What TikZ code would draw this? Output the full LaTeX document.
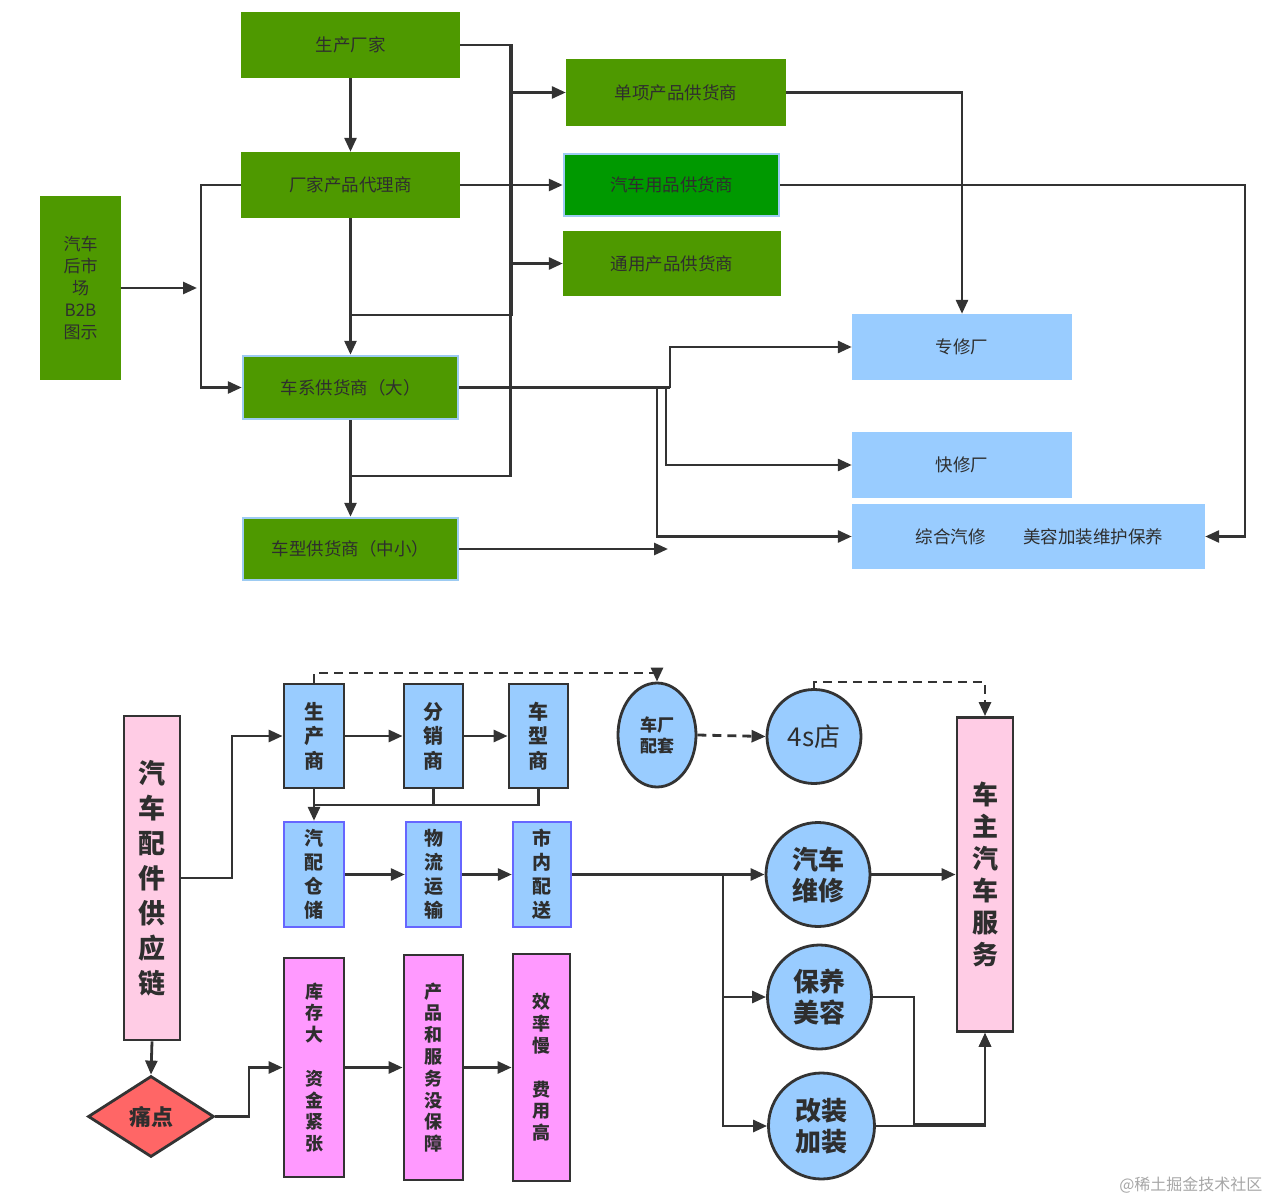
\documentclass[tikz,border=0pt]{standalone}
\usepackage{fontspec}
\setmainfont{Noto Sans CJK SC}
\usetikzlibrary{arrows.meta,shapes.geometric}
\definecolor{gr}{HTML}{4E9900}
\definecolor{grb}{HTML}{009900}
\definecolor{lb}{HTML}{99CCFF}
\definecolor{lbb}{HTML}{9DCBF2}
\definecolor{pk}{HTML}{FFCCE5}
\definecolor{mg}{HTML}{FF99FF}
\definecolor{rd}{HTML}{FF6666}
\definecolor{vi}{HTML}{6666FF}
\definecolor{ln}{HTML}{333333}
\definecolor{tx}{HTML}{2E2E2E}
\tikzset{
  gbox/.style={rectangle,fill=gr,inner sep=0pt,text=tx,font=\fontsize{17.5}{20}\selectfont},
  gboxb/.style={gbox,draw=lbb,line width=2.5pt},
  bbox/.style={rectangle,fill=lb,inner sep=0pt,text=tx,font=\fontsize{17.5}{20}\selectfont},
  dk/.style={draw=ln,line width=2.8pt,inner sep=0pt,text=tx,align=center},
  vbox/.style={dk,rectangle,fill=lb,font=\fontsize{20}{24.5}\selectfont\bfseries},
  wbox/.style={rectangle,fill=lb,draw=vi,line width=2.4pt,inner sep=0pt,text=tx,align=center,font=\fontsize{19}{24}\selectfont\bfseries},
  mbox/.style={dk,rectangle,fill=mg,font=\fontsize{18}{21.8}\selectfont\bfseries},
  circ/.style={dk,circle,fill=lb,font=\fontsize{26}{31}\selectfont\bfseries},
  arr/.style={draw=ln,line width=2.8pt,-{Triangle[length=14pt,width=12pt]}},
  lnk/.style={draw=ln,line width=2.8pt},
  darr/.style={arr,dash pattern=on 9pt off 6pt}
}
\begin{document}
\begin{tikzpicture}[x=1pt,y=-1pt]
\useasboundingbox (0,0) rectangle (1270,1201);
% ---------------- top part ----------------
\node[gbox,minimum width=219pt,minimum height=66pt] (pf) at (350.5,45) {生产厂家};
\node[gbox,minimum width=219pt,minimum height=66pt] (dl) at (350.5,185) {厂家产品代理商};
\node[gbox,minimum width=81pt,minimum height=184pt,align=center,font=\fontsize{17}{22}\selectfont] (hs) at (80.5,288) {汽车\\后市\\场\\B2B\\图示};
\node[gbox,minimum width=220pt,minimum height=67pt] (dx) at (676,92.5) {单项产品供货商};
\node[gboxb,fill=grb,minimum width=215pt,minimum height=62pt] (yp) at (671.5,185) {汽车用品供货商};
\node[gbox,minimum width=218pt,minimum height=65pt] (ty) at (672,263.5) {通用产品供货商};
\node[gboxb,minimum width=215pt,minimum height=63pt] (cx) at (350.5,387.5) {车系供货商（大）};
\node[gboxb,minimum width=215pt,minimum height=62pt] (cxz) at (350.5,549) {车型供货商（中小）};
\node[bbox,minimum width=220pt,minimum height=66pt] (zx) at (962,347) {专修厂};
\node[bbox,minimum width=220pt,minimum height=66pt] (kx) at (962,465) {快修厂};
\node[bbox,minimum width=353pt,minimum height=65pt] (zh) at (1028.5,536.5) {\hspace{22pt}综合汽修\hspace{38pt}美容加装维护保养};

\coordinate (b1) at (512,315);
\coordinate (bt) at (510.5,45);
\coordinate (b0) at (510.5,92.5);
\coordinate (b2) at (510.5,476);
\coordinate (h1) at (197,288);
\coordinate (lx) at (201,0);
\coordinate (j1) at (670,387.5);
\coordinate (j2) at (666,387.5);
\coordinate (j3) at (657,387.5);
\coordinate (e1) at (668,549);
\coordinate (r1) at (1245,185);

\draw[lnk] (pf.east) -| (b1) -- (b1 -| dl.south);
\draw[lnk] (bt) -- (b2) -- (b2 -| cx.south);
\draw[arr] (b0) -- (dx.west);
\draw[arr] (b0 |- ty.west) -- (ty.west);
\draw[arr] (pf.south) -- (dl.north);
\draw[arr] (dl.east) -- (yp.west);
\draw[arr] (dl.south) -- (cx.north);
\draw[arr] (cx.south) -- (cxz.north);
\draw[arr] (hs.east |- h1) -- (h1);
\draw[arr] (dl.west) -- (dl.west -| lx) -- (cx.west -| lx) -- (cx.west);
\draw[lnk] (cx.east) -- (j1);
\draw[arr] (j1) |- (zx.west);
\draw[arr] (j2) |- (kx.west);
\draw[arr] (j3) |- (zh.west);
\draw[arr] (cxz.east) -- (e1);
\draw[arr] (dx.east) -| (zx.north);
\draw[arr] (yp.east) -- (r1) |- (zh.east);

% ---------------- bottom part ----------------
\node[dk,rectangle,fill=pk,minimum width=56pt,minimum height=324pt,font=\fontsize{27}{35}\selectfont\bfseries] (sc) at (152,878) {汽\\车\\配\\件\\供\\应\\链};
\node[vbox,minimum width=60pt,minimum height=104pt] (scs) at (314,736) {生\\产\\商};
\node[vbox,minimum width=59pt,minimum height=104pt] (fx) at (433.5,736) {分\\销\\商};
\node[vbox,minimum width=59pt,minimum height=104pt] (cxs) at (538.5,736) {车\\型\\商};
\node[wbox,minimum width=60pt,minimum height=105pt] (qp) at (314,874.5) {汽\\配\\仓\\储};
\node[wbox,minimum width=55pt,minimum height=105pt] (wl) at (433.5,874.5) {物\\流\\运\\输};
\node[wbox,minimum width=58pt,minimum height=105pt] (sn) at (542,874.5) {市\\内\\配\\送};
\node[dk,ellipse,fill=lb,minimum width=78pt,minimum height=104pt,font=\fontsize{17}{21}\selectfont\bfseries] (cc) at (657,735) {车厂\\配套};
\node[dk,circle,fill=lb,minimum size=94pt,font=\fontsize{26}{31}\selectfont] (s4) at (814,736.5) {4s店};
\node[circ,minimum size=104pt] (wx) at (818,874.5) {汽车\\维修};
\node[circ,minimum size=104pt] (by) at (819.5,997) {保养\\美容};
\node[circ,minimum size=106pt] (gz) at (821.5,1126) {改装\\加装};
\node[dk,rectangle,fill=pk,minimum width=56pt,minimum height=314pt,font=\fontsize{26}{32}\selectfont\bfseries] (cz) at (985,874.5) {车\\主\\汽\\车\\服\\务};
\node[dk,diamond,fill=rd,minimum width=126pt,minimum height=81pt,aspect=1.55,font=\fontsize{22}{26}\selectfont\bfseries] (td) at (151,1116.5) {痛点};
\node[mbox,minimum width=60pt,minimum height=219pt] (kc) at (314,1067.5) {库\\存\\大\\[21.8pt]资\\金\\紧\\张};
\node[mbox,minimum width=59pt,minimum height=225pt] (cp) at (433.5,1067.5) {产\\品\\和\\服\\务\\没\\保\\障};
\node[mbox,minimum width=57pt,minimum height=227pt] (xl) at (541.5,1067.5) {效\\率\\慢\\[21.8pt]费\\用\\高};

\coordinate (k1) at (232,878);
\coordinate (m) at (314,805);
\coordinate (v) at (723,874.5);
\coordinate (p1) at (914,1124);
\coordinate (k2) at (249,1116.5);
\coordinate (d1) at (0,673);
\coordinate (d2) at (0,682);

\draw[arr] (sc.east) -- (k1) |- (scs.west);
\draw[arr] (scs.east) -- (fx.west);
\draw[arr] (fx.east) -- (cxs.west);
\draw[arr] (scs.south) -- (qp.north);
\draw[lnk] (cxs.south) |- (m);
\draw[lnk] (fx.south) -- (fx.south |- m);
\draw[arr] (qp.east) -- (wl.west);
\draw[arr] (wl.east) -- (sn.west);
\draw[arr] (sn.east) -- (wx.west);
\draw[arr] (v) |- (by.west);
\draw[arr] (v) |- (gz.west);
\draw[arr] (wx.east) -- (cz.west);
\draw[arr] (by.east) -| (p1) -- (p1 -| cz.south) -- (cz.south);
\draw[arr] (gz.east) -| (cz.south);
\draw[arr] (sc.south) -- (td.north);
\draw[arr] (td.east) -- (k2) |- (kc.west);
\draw[arr] (kc.east) -- (cp.west);
\draw[arr] (cp.east) -- (xl.west);
\draw[darr] (scs.north) |- (cc.north |- d1) -- (cc.north);
\draw[darr] (cc.east) -- (s4.west);
\draw[darr] (s4.north) |- (cz.north |- d2) -- (cz.north);

\node[text=black!35,font=\fontsize{16}{19}\selectfont,anchor=east] (wm) at (1266,1185) {@稀土掘金技术社区};
\end{tikzpicture}
\end{document}
